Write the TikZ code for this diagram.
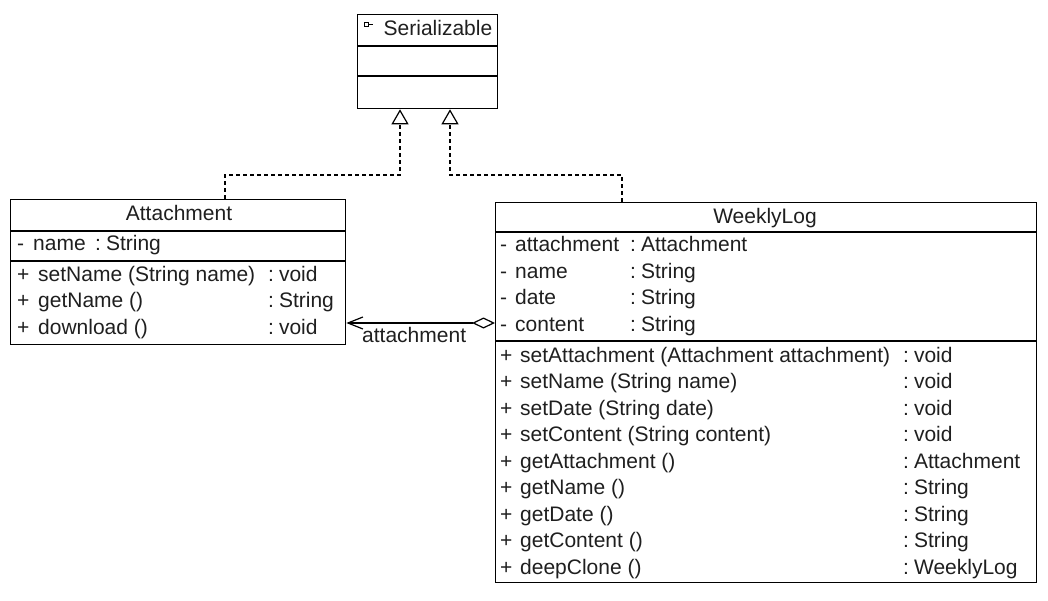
\documentclass[tikz,border=0pt]{standalone}
\usepackage{fontspec}
\setmainfont{Liberation Sans}
\usetikzlibrary{arrows.meta}
\newcommand\umlfont{\fontsize{21}{25}\selectfont}
\newcommand\typ[1]{:\hspace{5pt}#1}
\tikzset{
  cls/.style={draw, line width=1.3pt, anchor=north west, inner sep=0pt},
  txt/.style={anchor=base west, inner sep=0pt, font=\umlfont, text=black!88},
  ttl/.style={anchor=base, inner sep=0pt, font=\umlfont, text=black!88},
  sep/.style={line width=1.3pt},
  realize/.style={line width=1.2pt, dash pattern=on 4pt off 3pt,
    -{Triangle[open, length=15pt, width=17pt, line width=1.2pt]}},
  aggr/.style={line width=1.2pt,
    {Diamond[open, length=23pt, width=11pt, line width=1.2pt]}-{Straight Barb[length=15pt, width=12pt, line width=1.2pt]}}
}
\begin{document}
\begin{tikzpicture}[x=1pt,y=-1pt]
\useasboundingbox (0,0) rectangle (1048,601);

% ---------- Serializable ----------
\node[cls, minimum width=140pt, minimum height=94pt] (ser) at (357,14) {};
\draw[sep] (357,46) -- (497,46);
\draw[sep] (357,76) -- (497,76);
\draw[line width=0.9pt] (364,22.5) rectangle (368.5,26.5);
\draw[line width=0.9pt] (368.5,24.5) -- (373,24.5);
\node[ttl] (serT) at (438,36) {Serializable};

% ---------- Attachment ----------
\node[cls, minimum width=335pt, minimum height=145pt] (att) at (10,199) {};
\draw[sep] (10,231) -- (345,231);
\draw[sep] (10,261) -- (345,261);
\node[ttl] (attT) at (179,221) {Attachment};
\node[txt] (aA1v) at (17,250.5) {-};
\node[txt] (aA1n) at (33,250.5) {name};
\node[txt] (aA1t) at (95,250.5) {\typ{String}};
\node[txt] (aM1v) at (17,281) {+};
\node[txt] (aM1n) at (38,281) {setName (String name)};
\node[txt] (aM1t) at (268,281) {\typ{void}};
\node[txt] (aM2v) at (17,307.5) {+};
\node[txt] (aM2n) at (38,307.5) {getName ()};
\node[txt] (aM2t) at (268,307.5) {\typ{String}};
\node[txt] (aM3v) at (17,334) {+};
\node[txt] (aM3n) at (38,334) {download ()};
\node[txt] (aM3t) at (268,334) {\typ{void}};

% ---------- WeeklyLog ----------
\node[cls, minimum width=541pt, minimum height=380pt] (wl) at (495,202) {};
\draw[sep] (495,232) -- (1036,232);
\draw[sep] (495,341) -- (1036,341);
\node[ttl] (wlT) at (765,224) {WeeklyLog};

\node[txt] (wA1v) at (500,252) {-};
\node[txt] (wA1n) at (515,252) {attachment};
\node[txt] (wA1t) at (630,252) {\typ{Attachment}};
\node[txt] (wA2v) at (500,278.5) {-};
\node[txt] (wA2n) at (515,278.5) {name};
\node[txt] (wA2t) at (630,278.5) {\typ{String}};
\node[txt] (wA3v) at (500,305) {-};
\node[txt] (wA3n) at (515,305) {date};
\node[txt] (wA3t) at (630,305) {\typ{String}};
\node[txt] (wA4v) at (500,331.5) {-};
\node[txt] (wA4n) at (515,331.5) {content};
\node[txt] (wA4t) at (630,331.5) {\typ{String}};

\node[txt] (wM1v) at (500,362) {+};
\node[txt] (wM1n) at (520,362) {setAttachment (Attachment attachment)};
\node[txt] (wM1t) at (903,362) {\typ{void}};
\node[txt] (wM2v) at (500,388.5) {+};
\node[txt] (wM2n) at (520,388.5) {setName (String name)};
\node[txt] (wM2t) at (903,388.5) {\typ{void}};
\node[txt] (wM3v) at (500,415) {+};
\node[txt] (wM3n) at (520,415) {setDate (String date)};
\node[txt] (wM3t) at (903,415) {\typ{void}};
\node[txt] (wM4v) at (500,441.5) {+};
\node[txt] (wM4n) at (520,441.5) {setContent (String content)};
\node[txt] (wM4t) at (903,441.5) {\typ{void}};
\node[txt] (wM5v) at (500,468) {+};
\node[txt] (wM5n) at (520,468) {getAttachment ()};
\node[txt] (wM5t) at (903,468) {\typ{Attachment}};
\node[txt] (wM6v) at (500,494.5) {+};
\node[txt] (wM6n) at (520,494.5) {getName ()};
\node[txt] (wM6t) at (903,494.5) {\typ{String}};
\node[txt] (wM7v) at (500,521) {+};
\node[txt] (wM7n) at (520,521) {getDate ()};
\node[txt] (wM7t) at (903,521) {\typ{String}};
\node[txt] (wM8v) at (500,547.5) {+};
\node[txt] (wM8n) at (520,547.5) {getContent ()};
\node[txt] (wM8t) at (903,547.5) {\typ{String}};
\node[txt] (wM9v) at (500,574) {+};
\node[txt] (wM9n) at (520,574) {deepClone ()};
\node[txt] (wM9t) at (903,574) {\typ{WeeklyLog}};

% ---------- connectors ----------
\coordinate (k1) at (225,175);
\coordinate (k2) at (400,175);
\coordinate (k3) at (622,175);
\coordinate (k4) at (450,175);
\coordinate (k5) at (0,323);
\draw[realize] (att.north -| k1) -- (k1) -- (k2) -- (ser.south -| k2);
\draw[realize] (wl.north -| k3) -- (k3) -- (k4) -- (ser.south -| k4);
\draw[aggr] (wl.west |- k5) -- (att.east |- k5);
\node[txt] (lbl) at (362,342) {attachment};
\end{tikzpicture}
\end{document}
